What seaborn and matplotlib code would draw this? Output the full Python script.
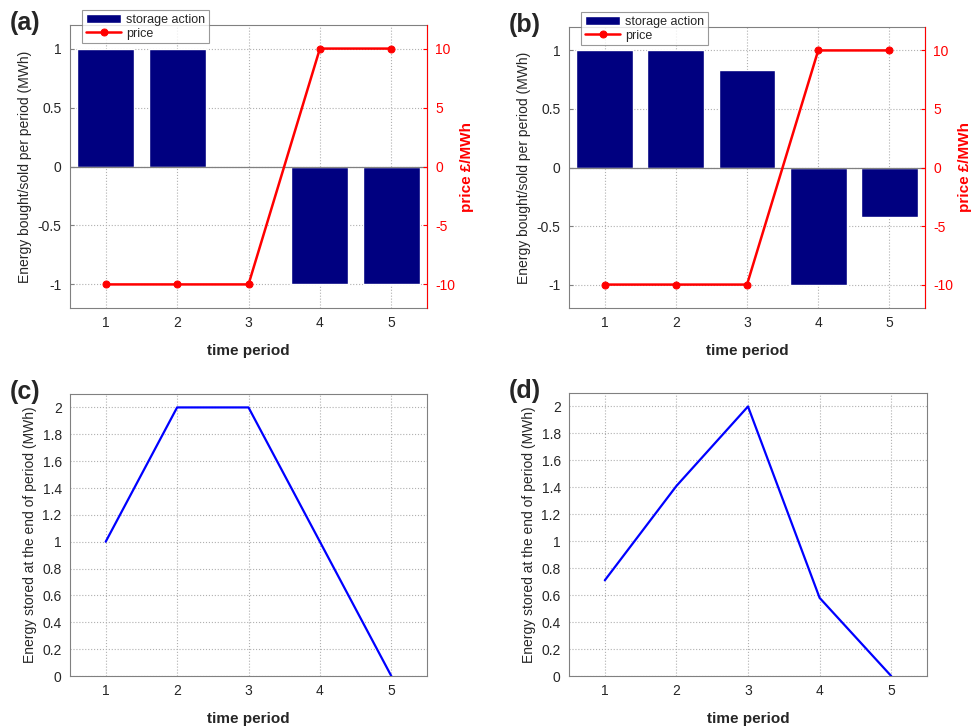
import matplotlib
matplotlib.use("Agg")
import matplotlib.pyplot as plt
import seaborn as sns
import numpy as np
import pandas as pd

sns.set_style("white")
plt.rcParams['font.family'] = ['Liberation Sans', 'DejaVu Sans']
plt.rcParams['axes.unicode_minus'] = False

periods = [1, 2, 3, 4, 5]
price = [-10, -10, -10, 10, 10]
action_a = [1, 1, 0, -1, -1]
action_b = [1, 1, 0.83, -1, -0.42]
stored_c = [1.0, 2.0, 2.0, 1.0, 0.0]
stored_d = [0.71, 1.41, 2.0, 0.58, 0.0]

BAR = "#000080"
RED = "#ff0000"
BLUE = "#0000ff"
SPINE = "#808080"

fig = plt.figure(figsize=(9.75, 7.27), dpi=100)
W, H = 975, 727

def add_ax(l, t, r, b):
    return fig.add_axes([l / W, 1 - b / H, (r - l) / W, (b - t) / H])

def style(ax):
    for s in ax.spines.values():
        s.set_color(SPINE)
        s.set_linewidth(0.8)
    ax.grid(True, linestyle=':', color='#b0b0b0', linewidth=0.8)
    ax.set_axisbelow(True)
    ax.tick_params(direction='in', length=3, labelsize=10, color=SPINE, pad=6)
    ax.set_xticks(periods)
    ax.set_xlim(0.5, 5.5)

def action_panel(ax, vals, letter):
    df = pd.DataFrame({"period": periods, "action": vals})
    sns.barplot(data=df, x="period", y="action", native_scale=True, color=BAR,
                saturation=1, width=0.8, ax=ax, label="storage action", zorder=2)
    style(ax)
    ax.set_ylim(-1.2, 1.2)
    ax.set_yticks([-1, -0.5, 0, 0.5, 1])
    ax.set_yticklabels(["-1", "-0.5", "0", "0.5", "1"])
    ax.axhline(0, color=SPINE, linewidth=0.9, zorder=2.5)
    ax.set_xlabel("time period", fontsize=11, fontweight='bold', labelpad=10)
    ax.set_ylabel("Energy bought/sold per period (MWh)", fontsize=10, labelpad=4)
    ax2 = ax.twinx()
    dfp = pd.DataFrame({"period": periods, "price": price})
    sns.lineplot(data=dfp, x="period", y="price", color=RED, marker='o', markersize=5,
                 markeredgecolor=RED, linewidth=1.8, ax=ax2, label="price", legend=False)
    ax2.set_ylim(-12, 12)
    ax2.set_yticks([-10, -5, 0, 5, 10])
    ax2.set_yticklabels(["-10", "-5", "0", "5", "10"])
    ax2.tick_params(direction='in', length=3, labelsize=10, colors=RED, pad=6)
    ax2.spines['right'].set_color(RED)
    for s in ['left', 'top', 'bottom']:
        ax2.spines[s].set_visible(False)
    ax2.set_ylabel("price £/MWh", fontsize=11, fontweight='bold', color=RED, labelpad=3)
    ax2.grid(False)
    h1, l1 = ax.get_legend_handles_labels()
    h2, l2 = ax2.get_legend_handles_labels()
    if ax.get_legend():
        ax.get_legend().remove()
    leg = ax2.legend(h1 + h2, l1 + l2, loc='upper left', bbox_to_anchor=(0.035, 1.053),
                     fontsize=9, frameon=True, fancybox=False, borderpad=0.3,
                     handlelength=2.8, labelspacing=0.15, handletextpad=0.4, borderaxespad=0)
    leg.get_frame().set_edgecolor(SPINE)
    leg.get_frame().set_linewidth(0.8)
    fig.text(ax.get_position().x0 - 60 / W, ax.get_position().y1 + 2 / H, letter,
             fontsize=18, fontweight='bold', ha='left', va='center')

def stored_panel(ax, vals, letter):
    df = pd.DataFrame({"period": periods, "stored": vals})
    sns.lineplot(data=df, x="period", y="stored", color=BLUE, linewidth=1.6, ax=ax)
    style(ax)
    ax.set_ylim(0, 2.1)
    ax.set_yticks(np.round(np.arange(0, 2.01, 0.2), 1))
    ax.set_yticklabels(["0", "0.2", "0.4", "0.6", "0.8", "1", "1.2", "1.4", "1.6", "1.8", "2"])
    ax.set_xlabel("time period", fontsize=11, fontweight='bold', labelpad=10)
    ax.set_ylabel("Energy stored at the end of period (MWh)", fontsize=10, labelpad=4)
    fig.text(ax.get_position().x0 - 60 / W, ax.get_position().y1 + 2 / H, letter,
             fontsize=18, fontweight='bold', ha='left', va='center')

axa = add_ax(70, 25, 427, 308)
axb = add_ax(569, 27, 925, 308)
axc = add_ax(70, 394, 427, 676)
axd = add_ax(569, 393, 927, 676)

action_panel(axa, action_a, "(a)")
action_panel(axb, action_b, "(b)")
stored_panel(axc, stored_c, "(c)")
stored_panel(axd, stored_d, "(d)")

fig.savefig("out.png", dpi=100)
